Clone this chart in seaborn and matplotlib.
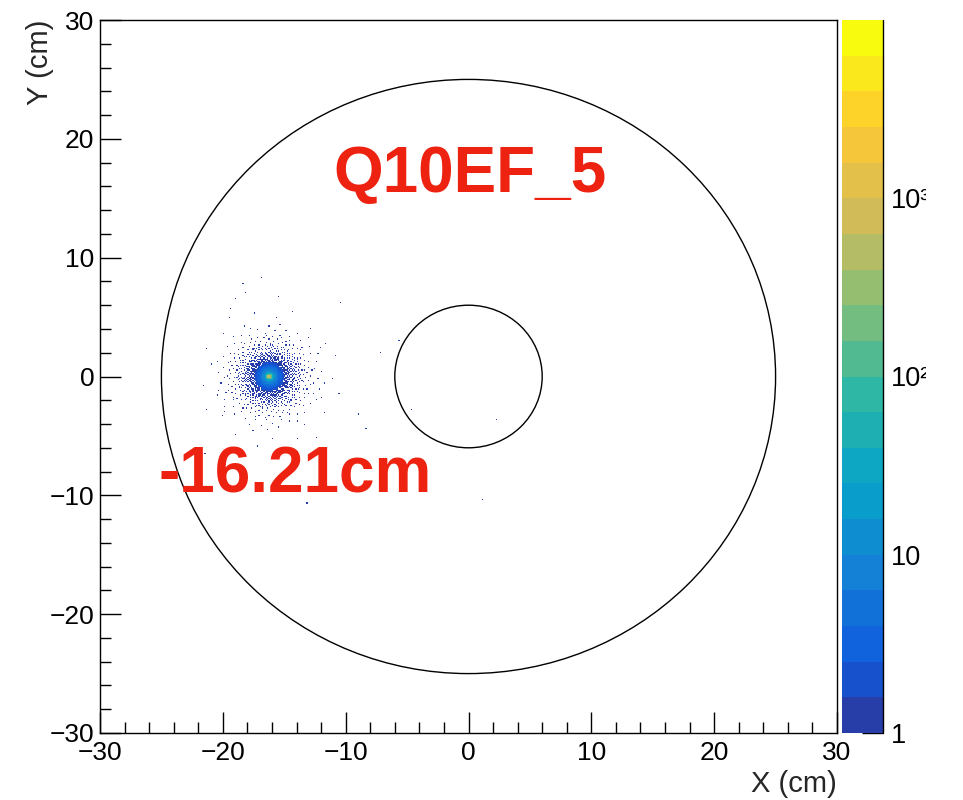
import numpy as np
import pandas as pd
import matplotlib
matplotlib.use("Agg")
import matplotlib.pyplot as plt
import seaborn as sns
from matplotlib.colors import LinearSegmentedColormap, ListedColormap, LogNorm
from matplotlib.patches import Circle
from matplotlib.transforms import Bbox, TransformedBbox
from matplotlib.ticker import FixedLocator, MultipleLocator, LogLocator, NullFormatter

# beam spot centre (cm), as written on the plot
spot_x = -16.21
spot_y = 0.0

# dense core: ring edges (cm) and hits per bin inside each ring
core_edges = [0.0, 0.06, 0.15, 0.25, 0.38, 0.5, 0.65, 0.8, 1.0, 1.2]
core_counts = [5000, 600, 100, 30, 12, 7, 4, 3, 2]

# sparse halo: ring edges (cm) and number of hit bins in each ring
halo_edges = [1.2, 1.6, 2.1, 2.7, 3.5, 4.5, 6.0]
halo_hits = [245, 260, 200, 125, 63, 25]

# isolated hits far from the spot (cm)
stray_x = [-18.4, -18.1, -19.0, -15.5, -10.5, -19.3, -7.2, -9.0, -8.3, -19.8,
           -4.6, 2.3, -5.6, 1.1, -13.1, -11.7, -16.8, -21.5, -14.0, -12.3]
stray_y = [7.9, 7.0, 6.5, 6.8, 6.2, 5.7, 2.0, -3.1, -4.4, -3.0,
           -2.8, -3.6, 3.0, -10.3, -10.6, 2.7, 8.4, -6.5, -6.3, -5.2]

# detector outlines (cm)
ring_radii = [6, 25]

# axis / palette settings
x_range = (-30, 30)
y_range = (-30, 30)
n_bins = 600
z_range = (1, 1e4)
n_levels = 20

# ROOT kBird palette stops
bird_stops = [0.0, 0.125, 0.25, 0.375, 0.5, 0.625, 0.75, 0.875, 1.0]
bird_r = [0.2082, 0.0592, 0.0780, 0.0232, 0.1802, 0.5301, 0.8186, 0.9956, 0.9764]
bird_g = [0.1664, 0.3599, 0.5041, 0.6419, 0.7178, 0.7492, 0.7328, 0.7862, 0.9832]
bird_b = [0.5293, 0.8684, 0.8385, 0.7914, 0.6425, 0.4662, 0.3499, 0.1968, 0.0539]


def build_counts():
    width = (x_range[1] - x_range[0]) / n_bins
    centers = x_range[0] + (np.arange(n_bins) + 0.5) * width
    xx, yy = np.meshgrid(centers, centers, indexing="ij")
    rr = np.hypot(xx - spot_x, yy - spot_y)
    counts = np.zeros((n_bins, n_bins))
    for i in range(len(core_counts)):
        counts[(rr >= core_edges[i]) & (rr < core_edges[i + 1])] = core_counts[i]

    # spread halo hits evenly over each ring (sunflower layout)
    golden = np.pi * (3 - np.sqrt(5))
    for i in range(len(halo_hits)):
        n = halo_hits[i]
        r0, r1 = halo_edges[i], halo_edges[i + 1]
        k = np.arange(n)
        r = np.sqrt(r0 ** 2 + (k + 0.5) / n * (r1 ** 2 - r0 ** 2))
        th = k * golden + i * 0.7
        ix = ((spot_x + r * np.cos(th) - x_range[0]) / width).astype(int)
        iy = ((spot_y + r * np.sin(th) - y_range[0]) / width).astype(int)
        for a, b in zip(ix, iy):
            counts[a, b] += 1

    for x, y in zip(stray_x, stray_y):
        counts[int((x - x_range[0]) / width), int((y - y_range[0]) / width)] += 1

    ia, ib = np.nonzero(counts)
    return pd.DataFrame({"x": centers[ia], "y": centers[ib], "w": counts[ia, ib]})


df = build_counts()

grad = LinearSegmentedColormap.from_list(
    "bird", list(zip(bird_stops, zip(bird_r, bird_g, bird_b))), N=255)
bird = ListedColormap([grad((i + 0.99) / n_levels) for i in range(n_levels)])

sns.set_style("white")
plt.rcParams["font.family"] = ["Liberation Sans", "DejaVu Sans"]

fig = plt.figure(figsize=(9.63, 8.0), dpi=100)
ax = fig.add_axes([100 / 963, 67 / 800, 737 / 963, 713 / 800])
cax = fig.add_axes([842 / 963, 67 / 800, 41 / 963, 713 / 800])

sns.histplot(data=df, x="x", y="y", weights="w", bins=n_bins,
             binrange=(x_range, y_range), cmap=bird, ax=ax, cbar=False)
mesh = ax.collections[0]
mesh.set_norm(LogNorm(*z_range))
mesh.set_rasterized(True)

for rad in ring_radii:
    ax.add_patch(Circle((0, 0), rad, fill=False, color="black", lw=1.0))

ax.set_xlim(x_range)
ax.set_ylim(y_range)
ax.set_aspect("auto")
for s in ax.spines.values():
    s.set_visible(True)
    s.set_color("black")
    s.set_linewidth(1.0)

ax.xaxis.set_major_locator(MultipleLocator(10))
ax.xaxis.set_minor_locator(MultipleLocator(2))
ax.yaxis.set_major_locator(MultipleLocator(10))
ax.yaxis.set_minor_locator(MultipleLocator(2))
ax.tick_params(which="both", direction="in", top=False, right=False,
               bottom=True, left=True, width=1.0, labelsize=19, colors="black")
ax.tick_params(which="major", length=15)
ax.tick_params(which="minor", length=8)
ax.tick_params(axis="x", pad=6)
ax.tick_params(axis="y", pad=4)

ax.set_xlabel("X (cm)", fontsize=21, loc="right")
ax.set_ylabel("Y (cm)", fontsize=21, loc="top")
ax.xaxis.set_label_coords(1.0, -0.052)
ax.yaxis.set_label_coords(-0.062, 1.0)

red = "#ee2211"
ax.text(0.12, 15.5, "Q10EF_5", color=red, fontsize=46, fontweight="bold",
        ha="center", va="baseline")
ax.text(-25.2, -9.8, "-16.21cm", color=red, fontsize=46, fontweight="bold",
        ha="left", va="baseline")

cbar = fig.colorbar(mesh, cax=cax)
cbar.outline.set_visible(False)
cax.axvline(1.0, color="black", lw=1.0, clip_on=False)
cax.yaxis.set_ticks_position("right")
cax.yaxis.set_major_locator(FixedLocator([1, 10, 100, 1000]))
cax.yaxis.set_minor_locator(LogLocator(base=10, subs=np.arange(2, 10)))
cax.yaxis.set_minor_formatter(NullFormatter())
cax.set_yticklabels(["1", "10", "10²", "10³"])
cax.tick_params(which="both", direction="in", width=1.0, labelsize=19.5,
                colors="black", pad=6)
cax.tick_params(which="major", length=15)
cax.tick_params(which="minor", length=8)

# the original pad cuts the palette labels short on the right
clip = TransformedBbox(Bbox([[0, 0], [926 / 963, 1]]), fig.transFigure)
for lbl in cax.get_yticklabels():
    lbl.set_clip_box(clip)
    lbl.set_clip_on(True)

fig.savefig("out.png", dpi=100)
